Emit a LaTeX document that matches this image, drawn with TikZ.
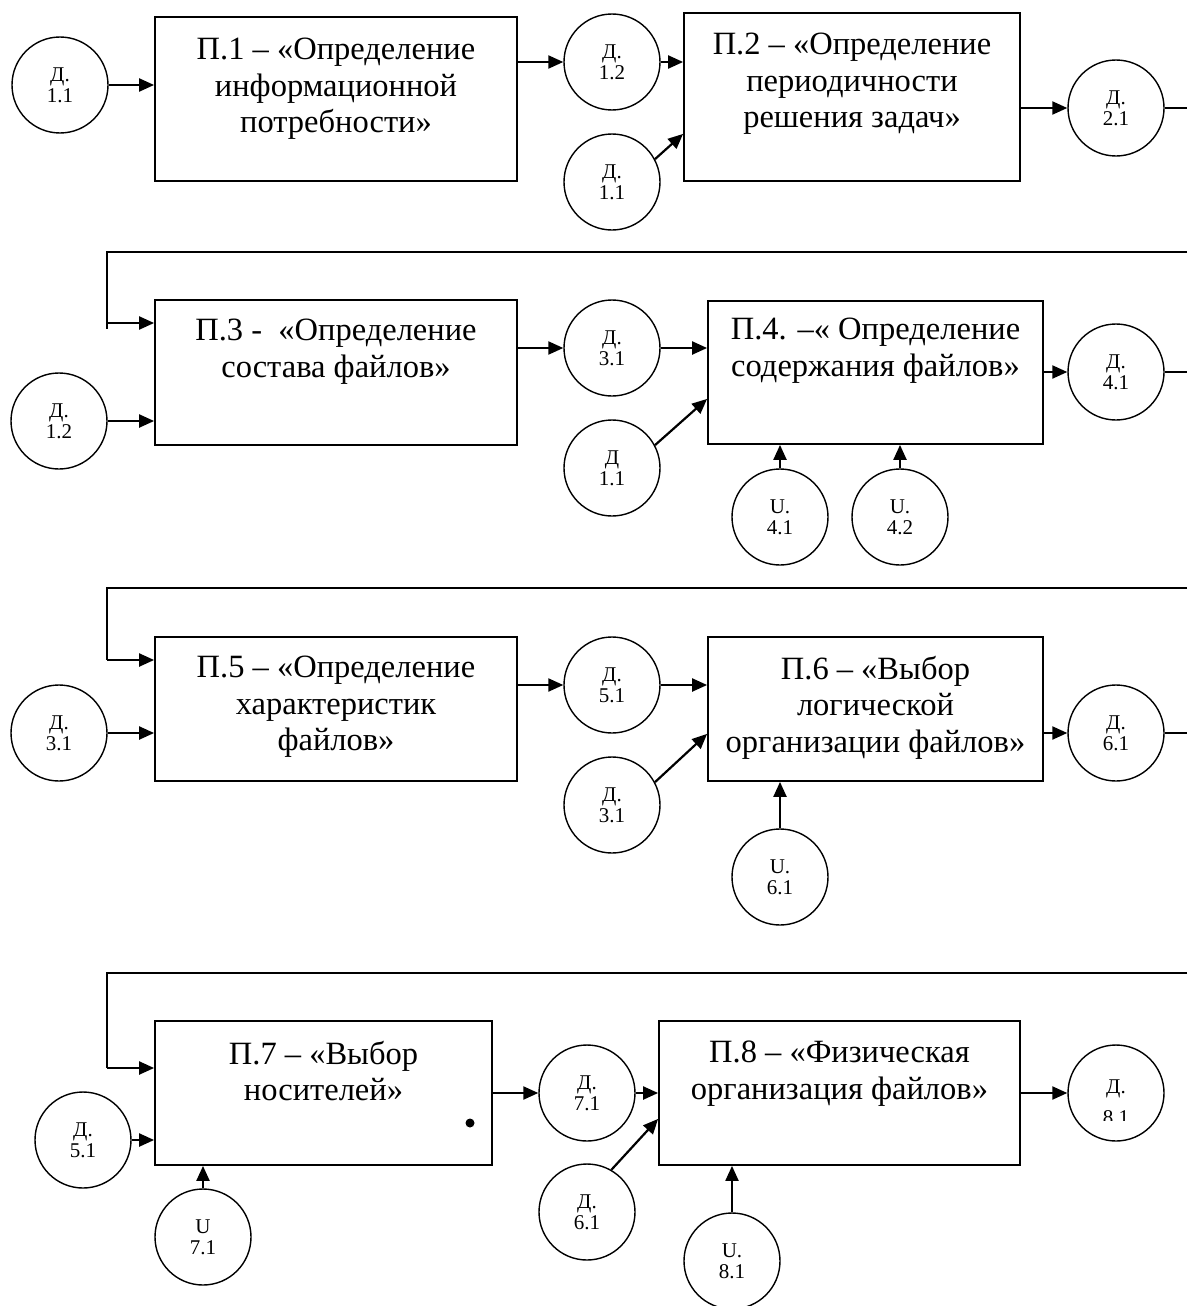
\documentclass[tikz,border=0pt]{standalone}
\usepackage{fontspec}
\setmainfont{Liberation Serif}
\usetikzlibrary{arrows.meta,calc}
\begin{document}
\begin{tikzpicture}[x=1pt,y=-1pt,
  procbox/.style={draw,line width=1.8pt,inner sep=0pt},
  datcirc/.style={draw,circle,line width=1.4pt,minimum size=96pt,inner sep=0pt,align=center,font=\fontsize{21}{21}\selectfont},
  ptext/.style={anchor=north,align=center,inner sep=0pt,font=\fontsize{32.5}{36.5}\selectfont},
  arr/.style={line width=2.2pt,-{Triangle[length=15pt,width=13pt]}},
  fbline/.style={line width=1.6pt},
  outline/.style={line width=1.4pt}]
\fill[white] (0,0) rectangle (1187,1306);
\useasboundingbox (0,0) rectangle (1187,1306);
\coordinate (E) at (1187,0);

% ---------- Row 1
\node[datcirc] (c1a) at (60,85) {Д.\\1.1};
\node[procbox,minimum width=362pt,minimum height=164pt] (b1) at (336,99) {};
\node[ptext] (b1t) at (336,38) {П.1 – «Определение\\информационной\\потребности»};
\node[datcirc] (c1b) at (612,62) {Д.\\1.2};
\node[datcirc] (c1c) at (612,182) {Д.\\1.1};
\node[procbox,minimum width=336pt,minimum height=168pt] (b2) at (852,97) {};
\node[ptext] (b2t) at (852,33) {П.2 – «Определение\\периодичности\\решения задач»};
\node[datcirc] (c1d) at (1116,108) {Д.\\2.1};

\draw[arr] (c1a.east) -- (c1a.east -| b1.west);
\draw[arr] (c1b.west -| b1.east) -- (c1b.west);
\draw[arr] (c1b.east) -- (c1b.east -| b2.west);
\draw[arr] (c1c.28) -- ([yshift=48pt]b2.south west);
\draw[arr] (c1d.west -| b2.east) -- (c1d.west);
\draw[outline] (c1d.east) -- (c1d.east -| E);

% ---------- Row 2
\coordinate (f2a) at (1187,252);
\coordinate (f2b) at (107,329);
\coordinate (f2c) at (107,323);
\draw[fbline] (f2a) -| (f2b);
\node[procbox,minimum width=362pt,minimum height=145pt] (b3) at (336,372.5) {};
\node[ptext] (b3t) at (336,319) {П.3 -~ «Определение\\состава файлов»};
\node[datcirc] (c2a) at (59,421) {Д.\\1.2};
\node[datcirc] (c2b) at (612,348) {Д.\\3.1};
\node[datcirc] (c2c) at (612,468) {Д\\1.1};
\node[procbox,minimum width=335pt,minimum height=143pt] (b4) at (875.5,372.5) {};
\node[ptext] (b4t) at (875.5,318) {П.4. –« Определение\\содержания файлов»};
\node[datcirc] (c2d) at (1116,372) {Д.\\4.1};
\node[datcirc] (c2e) at (780,517) {U.\\4.1};
\node[datcirc] (c2f) at (900,517) {U.\\4.2};

\draw[arr] (f2c) -- (f2c -| b3.west);
\draw[arr] (c2a.east) -- (c2a.east -| b3.west);
\draw[arr] (c2b.west -| b3.east) -- (c2b.west);
\draw[arr] (c2b.east) -- (c2b.east -| b4.west);
\draw[arr] (c2c.28) -- ([yshift=46pt]b4.south west);
\draw[arr] (c2d.west -| b4.east) -- (c2d.west);
\draw[outline] (c2d.east) -- (c2d.east -| E);
\draw[arr] (c2e.north) -- (c2e.north |- b4.south);
\draw[arr] (c2f.north) -- (c2f.north |- b4.south);

% ---------- Row 3
\coordinate (f3a) at (1187,588);
\coordinate (f3b) at (107,660);
\draw[fbline] (f3a) -| (f3b);
\node[procbox,minimum width=362pt,minimum height=144pt] (b5) at (336,709) {};
\node[ptext] (b5t) at (336,656) {П.5 – «Определение\\характеристик\\файлов»};
\node[datcirc] (c3a) at (59,733) {Д.\\3.1};
\node[datcirc] (c3b) at (612,685) {Д.\\5.1};
\node[datcirc] (c3c) at (612,805) {Д.\\3.1};
\node[procbox,minimum width=335pt,minimum height=144pt] (b6) at (875.5,709) {};
\node[ptext] (b6t) at (875.5,656) {П.6 – «Выбор\\логической\\организации файлов»};
\node[datcirc] (c3d) at (1116,733) {Д.\\6.1};
\node[datcirc] (c3e) at (780,877) {U.\\6.1};

\draw[arr] (f3b) -- (f3b -| b5.west);
\draw[arr] (c3a.east) -- (c3a.east -| b5.west);
\draw[arr] (c3b.west -| b5.east) -- (c3b.west);
\draw[arr] (c3b.east) -- (c3b.east -| b6.west);
\draw[arr] (c3c.28) -- ([yshift=48pt]b6.south west);
\draw[arr] (c3d.west -| b6.east) -- (c3d.west);
\draw[outline] (c3d.east) -- (c3d.east -| E);
\draw[arr] (c3e.north) -- (c3e.north |- b6.south);

% ---------- Row 4
\coordinate (f4a) at (1187,973);
\coordinate (f4b) at (107,1068);
\draw[fbline] (f4a) -| (f4b);
\node[procbox,minimum width=337pt,minimum height=144pt] (b7) at (323.5,1093) {};
\node[ptext] (b7t) at (323.5,1041) {П.7 – «Выбор\\носителей»};
\fill (470,1123) circle (4.5pt);
\node[datcirc] (c4a) at (83,1140) {Д.\\5.1};
\node[datcirc] (c4b) at (203,1237) {U\\7.1};
\node[datcirc] (c4c) at (587,1093) {Д.\\7.1};
\node[datcirc] (c4d) at (587,1212) {Д.\\6.1};
\node[procbox,minimum width=361pt,minimum height=144pt] (b8) at (839.5,1093) {};
\node[ptext] (b8t) at (839.5,1041) {П.8 – «Физическая\\организация файлов»};
\node[datcirc] (c4e) at (1116,1093) {};
\begin{scope}
  \clip (1060,1030) rectangle (1175,1120);
  \node[anchor=north,align=center,inner sep=0pt,font=\fontsize{21}{21}\selectfont] (c4et) at (1116,1080) {Д.\\[10pt]8.1};
\end{scope}
\node[datcirc] (c4f) at (732,1261) {U.\\8.1};

\draw[arr] (f4b) -- (f4b -| b7.west);
\draw[arr] (c4a.east) -- (c4a.east -| b7.west);
\draw[arr] (c4b.north) -- (c4b.north |- b7.south);
\draw[arr] (c4c.west -| b7.east) -- (c4c.west);
\draw[arr] (c4c.east) -- (c4c.east -| b8.west);
\draw[arr] (c4d.60) -- ([yshift=47pt]b8.south west);
\draw[arr] (c4e.west -| b8.east) -- (c4e.west);
\draw[arr] (c4f.north) -- (c4f.north |- b8.south);
\end{tikzpicture}
\end{document}
